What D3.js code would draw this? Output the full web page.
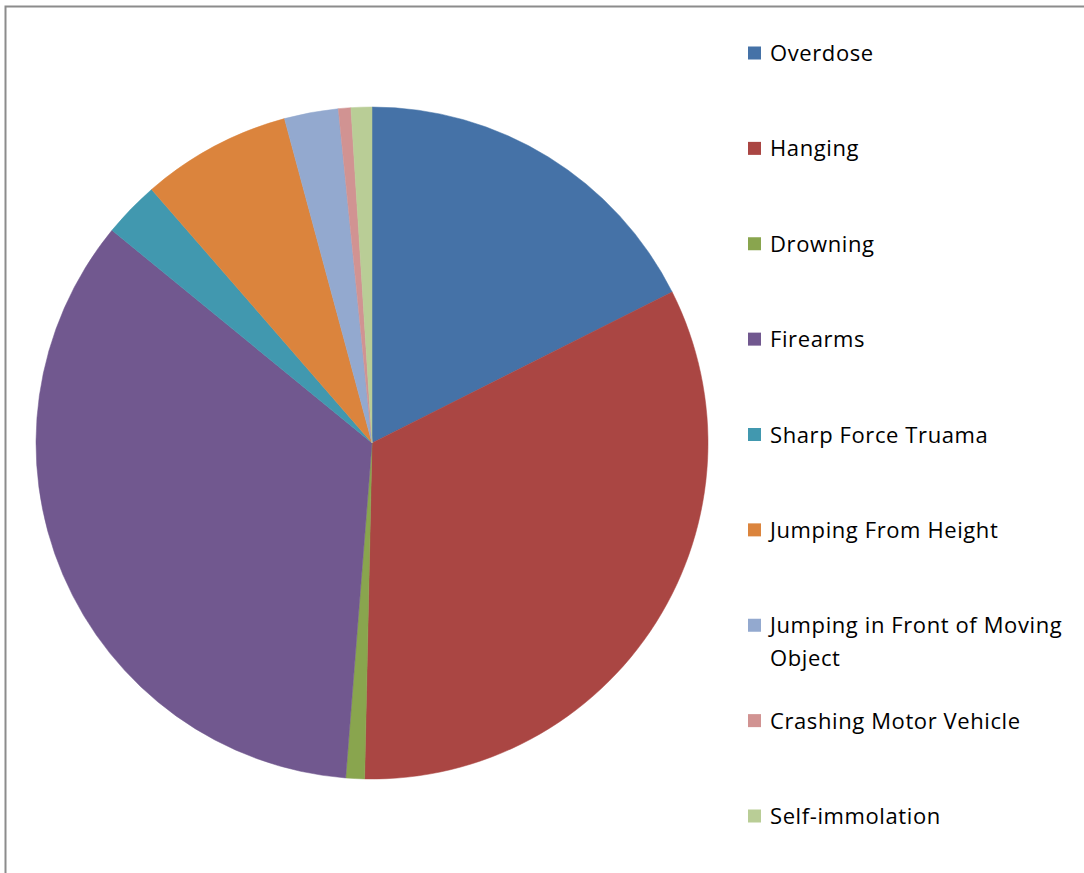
<!DOCTYPE html>
<html>
<head>
<meta charset="utf-8">
<script src="https://cdn.jsdelivr.net/npm/d3@7"></script>
<style>
  html, body { margin: 0; padding: 0; background: #fff; }
  svg { display: block; }
</style>
</head>
<body>
<svg id="chart" width="1084" height="873"></svg>
<script>
(function () {
    'use strict';
    // slice values (percent)
    var methods = ['Overdose', 'Hanging', 'Drowning', 'Firearms', 'Sharp Force Truama',
        'Jumping From Height', 'Jumping in Front of Moving Object', 'Crashing Motor Vehicle', 'Self-immolation'];
    var shares = [17.6, 32.8, 0.9, 34.7, 2.7, 7.2, 2.6, 0.6, 1.0];
    var colors = ['#4572A7', '#AA4643', '#89A54E', '#71588F', '#4198AF',
        '#DB843D', '#93A9CF', '#D19392', '#B9CD96'];

    var svg = d3.select('#chart');
    var cx = 372, cy = 443, radius = 336;

    // frame
    svg.append('path')
        .attr('d', 'M5.5,873V6.5H1084')
        .attr('fill', 'none').attr('stroke', '#8c8c8c').attr('stroke-width', 2);

    var color = d3.scaleOrdinal().domain(methods).range(colors);
    var data = methods.map(function (m, i) { return {name: m, value: shares[i]}; });

    var pie = d3.pie().sort(null).value(function (d) { return d.value; });
    var arc = d3.arc().innerRadius(0).outerRadius(radius);

    var pieGrp = svg.append('g').attr('transform', 'translate(' + cx + ',' + cy + ')');
    pieGrp.selectAll('path')
        .data(pie(data))
        .enter().append('path')
        .attr('d', arc)
        .attr('fill', function (d) { return color(d.data.name); })
        .attr('stroke', function (d) { return color(d.data.name); })
        .attr('stroke-width', 0.5);

    //legend
    var legY = d3.scalePoint().domain(methods).range([53, 816]);
    var legGrp = svg.append('g');
    var sq = 13;
    methods.forEach(function (m) {
        var y = legY(m);
        legGrp.append('rect')
            .attr('x', 748).attr('y', y - sq / 2)
            .attr('width', sq).attr('height', sq)
            .attr('fill', color(m));
        var txt = legGrp.append('text')
            .attr('x', 770).attr('y', y + 8)
            .attr('style', 'font-family: "Open Sans", sans-serif; font-size: 22px; letter-spacing: 0.6px; fill: #000;');
        if (m === 'Jumping in Front of Moving Object') {
            txt.append('tspan').attr('x', 770).text('Jumping in Front of Moving');
            txt.append('tspan').attr('x', 770).attr('dy', 33).text('Object');
        } else {
            txt.text(m);
        }
    });
})();
</script>
</body>
</html>
